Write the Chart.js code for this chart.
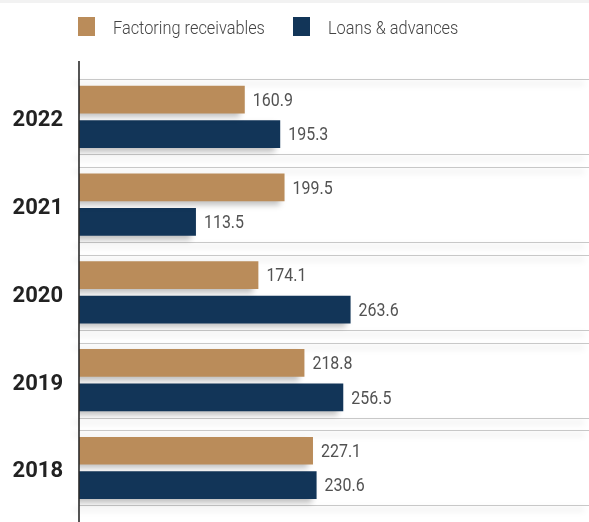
<!DOCTYPE html>
<html>
<head>
<meta charset="utf-8">
<script src="https://cdn.jsdelivr.net/npm/chart.js@4"></script>
<style>
  html, body { margin: 0; padding: 0; background: #fff; }
  #wrap { position: relative; width: 589px; height: 522px; overflow: hidden; }
  #topstrip { position: absolute; left: 0; top: 0; width: 589px; height: 3px; background: #f2f2f2; }
  .lg-box { position: absolute; top: 17px; width: 17px; height: 19px; }
  .lg-text { position: absolute; top: 16px; font: 300 19px Roboto, sans-serif; color: #444; line-height: 24px; white-space: nowrap; transform: scaleX(0.86); transform-origin: 0 0; }
  canvas { position: absolute; left: 0; top: 0; }
</style>
</head>
<body>
<div id="wrap">
  <canvas id="barChart" width="589" height="541"></canvas>
  <div id="topstrip"></div>
  <div class="lg-box" id="box0" style="left:78px"></div>
  <div class="lg-text" id="txt0" style="left:113px"></div>
  <div class="lg-box" id="box1" style="left:293px"></div>
  <div class="lg-text" id="txt1" style="left:328px"></div>
</div>
<script>
const years = ["2022", "2021", "2020", "2019", "2018"];
const seriesNames = ["Factoring receivables", "Loans & advances"];
const factoring = [160.9, 199.5, 174.1, 218.8, 227.1];
const loans = [195.3, 113.5, 263.6, 256.5, 230.6];
const colors = ["#BA8C5A", "#123558"];

// html legend
for (let i = 0; i < 2; i++) {
  document.getElementById("box" + i).style.background = colors[i];
  document.getElementById("txt" + i).textContent = seriesNames[i];
}

// soft shadow under bars
const shadowPlugin = {
  id: "barShadow",
  beforeDatasetsDraw(chart) {
    const ctx = chart.ctx;
    ctx.save();
    ctx.shadowColor = "rgba(0,0,0,0.25)";
    ctx.shadowBlur = 6;
    ctx.shadowOffsetX = -5;
    ctx.shadowOffsetY = 4;
  },
  afterDatasetsDraw(chart) {
    chart.ctx.restore();
  }
};

// band lines, axis line and value labels
const decorPlugin = {
  id: "decor",
  beforeDatasetsDraw(chart) {
    const ctx = chart.ctx;
    const y = chart.scales.y;
    const area = chart.chartArea;
    const step = Math.abs(y.getPixelForTick(1) - y.getPixelForTick(0));
    ctx.save();
    ctx.strokeStyle = "#c8c8c8";
    ctx.lineWidth = 1;
    for (let i = 0; i < years.length; i++) {
      const c = y.getPixelForTick(i);
      [c - step * 0.428, c + step * 0.428].forEach(function (py) {
        const yy = Math.round(py) + 0.5;
        ctx.beginPath();
        ctx.moveTo(area.left, yy);
        ctx.lineTo(area.right, yy);
        ctx.stroke();
      });
    }
    ctx.restore();
  },
  afterDatasetsDraw(chart) {
    const ctx = chart.ctx;
    const area = chart.chartArea;
    ctx.save();
    ctx.strokeStyle = "#2a2a2a";
    ctx.lineWidth = 1.6;
    ctx.beginPath();
    ctx.moveTo(area.left, 61);
    ctx.lineTo(area.left, 522);
    ctx.stroke();
    ctx.restore();

    ctx.save();
    ctx.fillStyle = "#525252";
    ctx.font = "19px Roboto, sans-serif";
    ctx.textAlign = "left";
    ctx.textBaseline = "middle";
    chart.data.datasets.forEach(function (ds, di) {
      chart.getDatasetMeta(di).data.forEach(function (bar, i) {
        ctx.save();
        ctx.translate(bar.x + 8, bar.y + 1.5);
        ctx.scale(0.84, 1);
        ctx.fillText(ds.data[i].toFixed(1), 0, 0);
        ctx.restore();
      });
    });
    ctx.restore();
  }
};

new Chart(document.getElementById("barChart"), {
  type: "bar",
  data: {
    labels: years,
    datasets: [
      { label: seriesNames[0], data: factoring, backgroundColor: colors[0] },
      { label: seriesNames[1], data: loans, backgroundColor: colors[1] }
    ]
  },
  options: {
    indexAxis: "y",
    responsive: false,
    animation: false,
    events: [],
    layout: { padding: { top: 73, bottom: 10, left: 0, right: 0 } },
    datasets: {
      bar: { categoryPercentage: 0.786, barPercentage: 0.8 }
    },
    plugins: {
      legend: { display: false },
      tooltip: { enabled: false }
    },
    scales: {
      x: {
        display: false,
        min: 0,
        max: 495
      },
      y: {
        afterFit(scale) { scale.width = 79; },
        grid: { display: false, drawTicks: false },
        border: { display: false },
        ticks: {
          padding: 16,
          labelOffset: 4,
          color: "#222",
          font: { family: "Roboto", size: 22, weight: "bold" }
        }
      }
    }
  },
  plugins: [shadowPlugin, decorPlugin]
});
</script>
</body>
</html>
